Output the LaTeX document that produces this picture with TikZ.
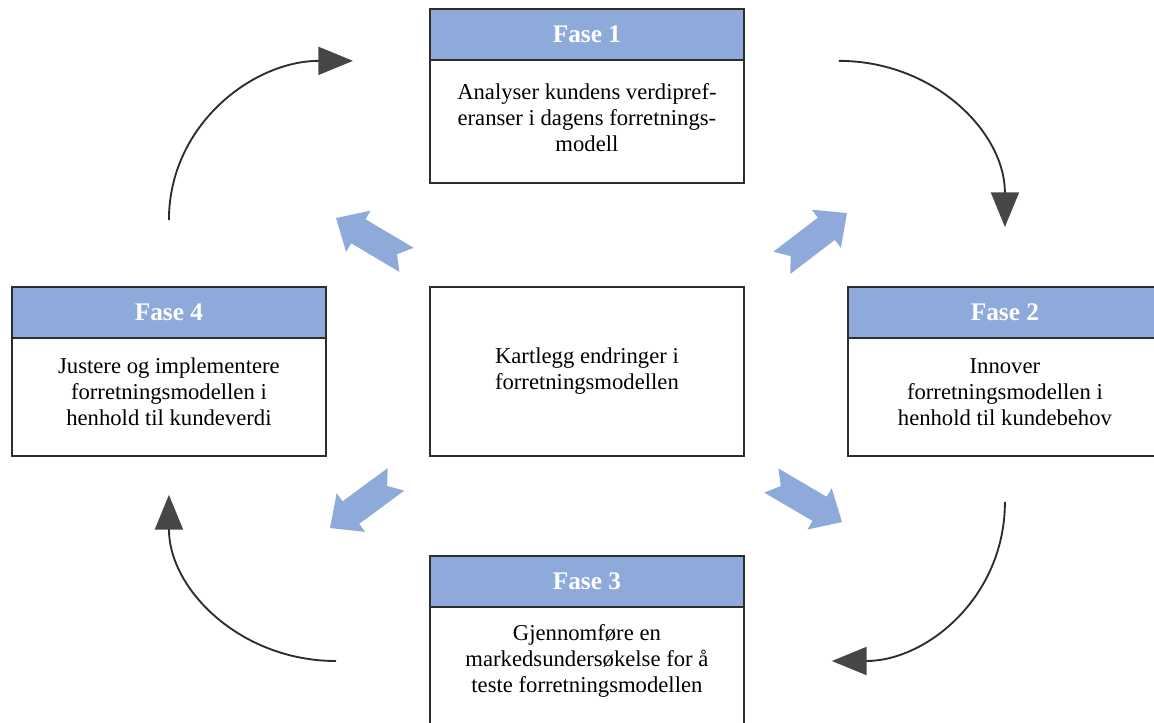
\documentclass[tikz,border=0pt]{standalone}
\usepackage{fontspec}
\setmainfont{Liberation Serif}
\usepackage{tikz}
\usetikzlibrary{arrows.meta}
\usetikzlibrary{calc}
\usepackage{xcolor}

\definecolor{faseblue}{RGB}{142,170,219}
\definecolor{boxline}{RGB}{45,45,45}
\definecolor{cycgray}{RGB}{45,45,45}

\tikzset{
  fasebox/.style={draw=boxline, line width=1.4pt, fill=white, minimum width=235.5pt, inner sep=0pt, anchor=north west},
  fasehead/.style={draw=boxline, line width=1.4pt, fill=faseblue, text=white, minimum width=235.5pt, minimum height=38.25pt, inner sep=0pt, anchor=north, font=\bfseries\fontsize{19}{22}\selectfont},
  fasetext/.style={align=center, inner sep=0pt, font=\fontsize{17}{19.5}\selectfont},
  cyclearrow/.style={draw=cycgray, line width=1.4pt, -{Triangle[length=26pt, width=21pt, color=cycgray!88]}},
  bluearrow/.style={fill=faseblue},
}

\begin{document}
\begin{tikzpicture}[x=0.75pt,y=0.75pt,yscale=-1,xscale=1]
\useasboundingbox (0,0) rectangle (1154,722);

%Fase 1
\node[fasebox, minimum height=130.5pt] (fase1) at (429,8) {};
\node[fasehead] (fase1head) at (fase1.north) {Fase 1};
\node[fasetext] (fase1text) at ($(fase1head.south)!0.5!(fase1.south)+(0,-5)$) {Analyser kundens verdipref-\\eranser i dagens forretnings-\\modell};
%Fase 4
\node[fasebox, minimum height=126.75pt] (fase4) at (11,286) {};
\node[fasehead] (fase4head) at (fase4.north) {Fase 4};
\node[fasetext] (fase4text) at ($(fase4head.south)!0.5!(fase4.south)+(0,-6)$) {Justere og implementere\\forretningsmodellen i\\henhold til kundeverdi};
%Centre
\node[fasebox, minimum height=126.75pt] (centre) at (429,286) {};
\node[fasetext] (centretext) at (centre) {Kartlegg endringer i\\forretningsmodellen};
%Fase 2
\node[fasebox, minimum height=126.75pt] (fase2) at (847,286) {};
\node[fasehead] (fase2head) at (fase2.north) {Fase 2};
\node[fasetext] (fase2text) at ($(fase2head.south)!0.5!(fase2.south)+(0,-6)$) {Innover\\forretningsmodellen i\\henhold til kundebehov};
%Fase 3
\node[fasebox, minimum height=126.75pt] (fase3) at (429,555) {};
\node[fasehead] (fase3head) at (fase3.north) {Fase 3};
\node[fasetext] (fase3text) at ($(fase3head.south)!0.5!(fase3.south)+(0,-6)$) {Gjennomføre en\\markedsundersøkelse for å\\teste forretningsmodellen};

%Cycle ends
\coordinate (c4a) at ($(fase4.north)+(0,-66)$);
\coordinate (c1a) at ($(fase1head.south west)+(-76,0)$);
\coordinate (c1b) at ($(fase1head.south east)+(94,0)$);
\coordinate (c2a) at ($(fase2.north)+(0,-59)$);
\coordinate (c2b) at ($(fase2.south)+(0,45)$);
\coordinate (c3a) at ($(fase3.north east)+(87,106)$);
\coordinate (c3b) at ($(fase3.north west)+(-93,106)$);
\coordinate (c4b) at ($(fase4.south)+(0,38)$);

%Curve Lines
\draw[cyclearrow] (c4a) .. controls +(0,-95) and +(-100,0) .. (c1a);
\draw[cyclearrow] (c1b) .. controls +(95,0) and +(0,-95) .. (c2a);
\draw[cyclearrow] (c2b) .. controls +(0,95) and +(95,0) .. (c3a);
\draw[cyclearrow] (c3b) .. controls +(-95,0) and +(0,95) .. (c4b);

%Blue arrows
\fill[bluearrow, shift={(336,218)}, rotate=-149.3] (0,0) -- (-26,24) -- (-26,14) -- (-82,14) -- (-71,0) -- (-82,-14) -- (-26,-14) -- (-26,-24) -- cycle;
\fill[bluearrow, shift={(847,213)}, rotate=-37.4] (0,0) -- (-26,24) -- (-26,14) -- (-82,14) -- (-71,0) -- (-82,-14) -- (-26,-14) -- (-26,-24) -- cycle;
\fill[bluearrow, shift={(330,528)}, rotate=-216.4] (0,0) -- (-26,24) -- (-26,14) -- (-82,14) -- (-71,0) -- (-82,-14) -- (-26,-14) -- (-26,-24) -- cycle;
\fill[bluearrow, shift={(842,522)}, rotate=30.4] (0,0) -- (-26,24) -- (-26,14) -- (-82,14) -- (-71,0) -- (-82,-14) -- (-26,-14) -- (-26,-24) -- cycle;

\end{tikzpicture}
\end{document}
